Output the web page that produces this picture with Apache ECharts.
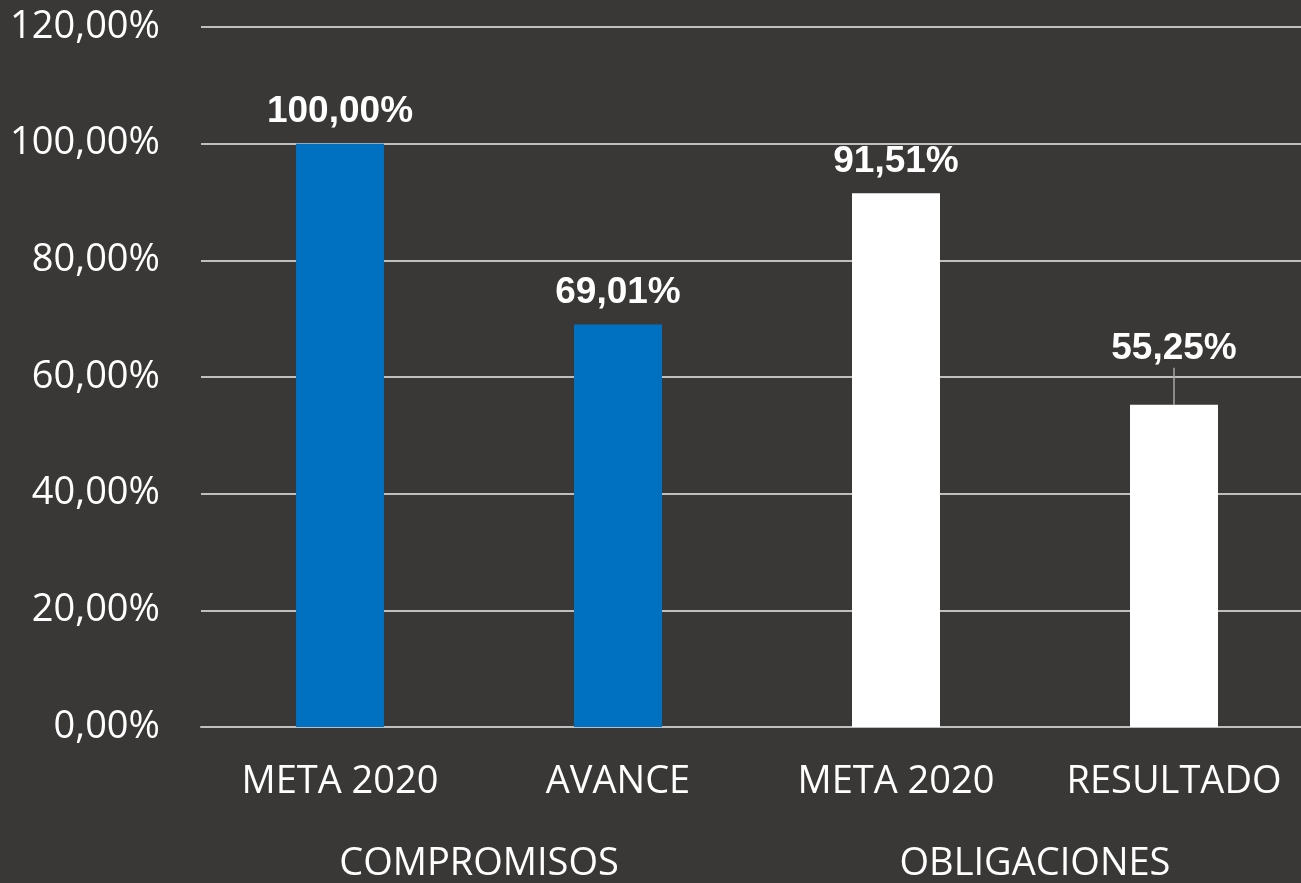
<!DOCTYPE html>
<html>
<head>
<meta charset="utf-8">
<script src="https://cdn.jsdelivr.net/npm/echarts@6/dist/echarts.min.js"></script>
<style>
html,body{margin:0;padding:0;background:#3a3836;overflow:hidden;width:1301px;height:883px;}
#chart{width:1313px;height:883px;}
</style>
</head>
<body>
<div id="chart"></div>
<script>
// Data
const categories = ['META 2020', 'AVANCE', 'META 2020', 'RESULTADO'];
const groups = ['COMPROMISOS', 'OBLIGACIONES'];
const groupOfCategory = [0, 0, 1, 1];
const values = [100.00, 69.01, 91.51, 55.25];
const yTicks = [0, 20, 40, 60, 80, 100, 120];

// Styles
const groupColors = ['#0070C0', '#FFFFFF'];
const movedLabelIndex = 3;
const fmt = v => v.toFixed(2).replace('.', ',') + '%';
const axisFont = { color: '#ffffff', fontFamily: 'Open Sans', fontSize: 38 };

const chart = echarts.init(document.getElementById('chart'));
chart.setOption({
  backgroundColor: '#3a3836',
  animation: false,
  grid: { left: 201, right: 0, top: 27, height: 702, containLabel: false },
  xAxis: [
    {
      type: 'category',
      data: categories,
      axisLine: { show: true, lineStyle: { color: '#bfbfbf', width: 2 } },
      axisTick: { show: false },
      axisLabel: Object.assign({ lineHeight: 38, margin: 36, interval: 0 }, axisFont)
    },
    {
      type: 'category',
      data: groups,
      position: 'bottom',
      offset: 82,
      axisLine: { show: false },
      axisTick: { show: false },
      splitLine: { show: false },
      axisLabel: Object.assign({ lineHeight: 38, margin: 36, interval: 0 }, axisFont)
    }
  ],
  yAxis: {
    type: 'value',
    min: yTicks[0],
    max: yTicks[yTicks.length - 1],
    interval: yTicks[1] - yTicks[0],
    axisLine: { show: false },
    axisTick: { show: false },
    splitLine: { lineStyle: { color: '#bfbfbf', width: 2 } },
    axisLabel: Object.assign({ margin: 41, formatter: v => fmt(v) }, axisFont)
  },
  series: [{
    type: 'bar',
    xAxisIndex: 0,
    barWidth: 88,
    data: values.map((v, i) => ({
      value: v,
      itemStyle: { color: groupColors[groupOfCategory[i]] },
      labelLine: { show: i === movedLabelIndex, lineStyle: { color: '#a6a6a6', width: 1.5 } }
    })),
    label: {
      show: true,
      position: 'top',
      distance: 13,
      color: '#ffffff',
      fontFamily: 'Liberation Sans, Arial, sans-serif',
      fontWeight: 'bold',
      fontSize: 37,
      formatter: p => fmt(p.value)
    },
    labelLayout: p => (p.dataIndex === movedLabelIndex ? { dy: -24 } : {})
  }]
});
</script>
</body>
</html>
